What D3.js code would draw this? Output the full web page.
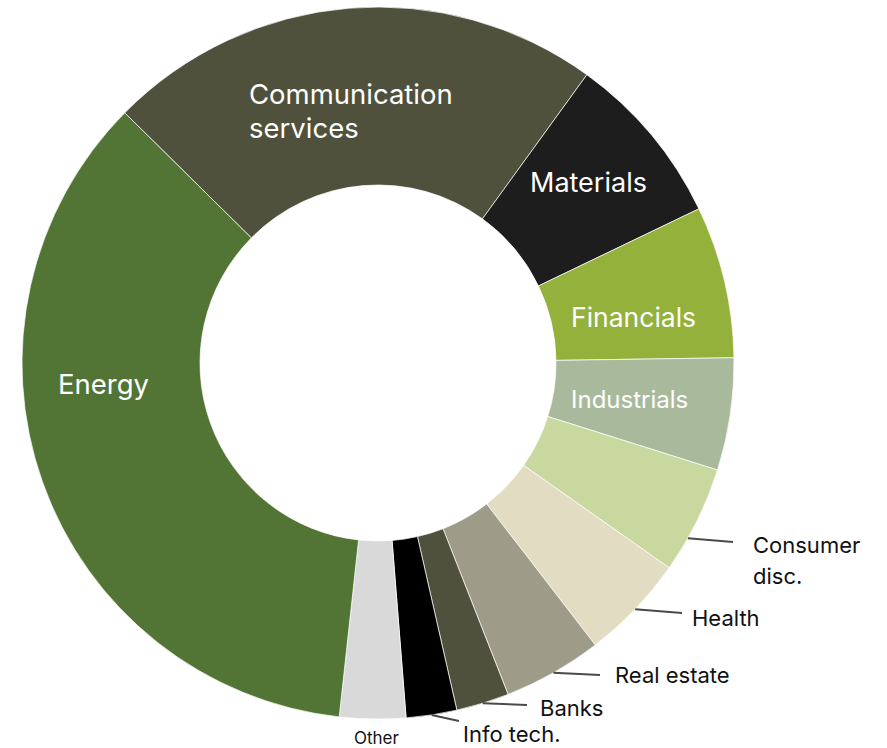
<!DOCTYPE html>
<html>
<head>
<meta charset="utf-8">
<script src="https://cdn.jsdelivr.net/npm/d3@7"></script>
<style>
  body { margin: 0; background: #fff; }
  svg text { font-family: Inter, "Noto Sans", sans-serif; }
</style>
</head>
<body>
<div id="chart"></div>
<script>
// sector shares (%), clockwise from Communication services
var sectors = ["Communication services", "Materials", "Financials", "Industrials", "Consumer disc.",
               "Health", "Real estate", "Banks", "Info tech.", "Other", "Energy"];
var shares  = [22.6, 7.9, 6.9, 5.1, 4.9, 4.8, 4.5, 2.4, 2.3, 3.0, 35.7];
var colors  = ["#4f513c", "#1d1d1d", "#94b13b", "#a9ba9c", "#c9d89f",
               "#e2dcc2", "#9e9c88", "#4f513c", "#000000", "#d9d9d9", "#527535"];

var width = 887, height = 748;
var cx = 378, cy = 363, outerR = 356, innerR = 178;

// hand placed labels: inside (white) and outside (with leader line)
var inside = {
  "Communication services": {x: 249, y: 104, lines: ["Communication", "services"], size: 27.5},
  "Materials":  {x: 530, y: 192, size: 27},
  "Financials": {x: 571, y: 327, size: 26.5},
  "Industrials": {x: 571, y: 408, size: 24},
  "Energy":     {x: 58, y: 394, size: 27.5}
};
// f = where along the slice the leader line leaves the rim (0.5 = middle)
var outside = {
  "Consumer disc.": {end: [733, 542], f: 0.68, x: 753, y: 553, lines: ["Consumer", "disc."]},
  "Health":      {end: [682, 613], x: 692, y: 626},
  "Real estate": {end: [600, 675], x: 615, y: 683},
  "Banks":       {end: [527, 705], x: 540, y: 716},
  "Info tech.":  {end: [459, 721], x: 463, y: 742},
  "Other":       {end: null, x: 354, y: 744, size: 17}
};

var data = sectors.map(function(s, i){ return {name: s, value: shares[i], color: colors[i]}; });

var pie = d3.pie()
    .sort(null)
    .value(function(d){ return d.value; })
    .startAngle(-45.35 * Math.PI / 180)
    .endAngle((360 - 45.35) * Math.PI / 180);

var arc = d3.arc().innerRadius(innerR).outerRadius(outerR);

var svg = d3.select("#chart").append("svg")
    .attr("width", width)
    .attr("height", height);

var g = svg.append("g").attr("transform", "translate(" + cx + "," + cy + ")");

var arcs = pie(data);

g.selectAll(".slice")
  .data(arcs)
  .enter().append("path")
    .attr("class", "slice")
    .attr("d", arc)
    .attr("fill", function(d){ return d.data.color; })
    .attr("stroke", "#fff")
    .attr("stroke-width", 0.7);

// inside labels
arcs.forEach(function(d){
  var lab = inside[d.data.name];
  if (!lab) return;
  var t = svg.append("text")
    .attr("x", lab.x).attr("y", lab.y)
    .attr("fill", "#fff")
    .style("font-size", lab.size + "px");
  (lab.lines || [d.data.name]).forEach(function(l, i){
    t.append("tspan").attr("x", lab.x).attr("dy", i ? 34 : 0).text(l);
  });
});

// outside labels with leader lines from the slice rim
arcs.forEach(function(d){
  var lab = outside[d.data.name];
  if (!lab) return;
  if (lab.end) {
    var f = lab.f == null ? 0.5 : lab.f;
    var a = d.startAngle + f * (d.endAngle - d.startAngle);
    var sx = cx + outerR * Math.sin(a), sy = cy - outerR * Math.cos(a);
    svg.append("line")
      .attr("x1", sx).attr("y1", sy)
      .attr("x2", lab.end[0]).attr("y2", lab.end[1])
      .attr("stroke", "#4a4a4a")
      .attr("stroke-width", 2);
  }
  var t = svg.append("text")
    .attr("x", lab.x).attr("y", lab.y)
    .attr("fill", "#111")
    .style("font-size", (lab.size || 22) + "px");
  (lab.lines || [d.data.name]).forEach(function(l, i){
    t.append("tspan").attr("x", lab.x).attr("dy", i ? 31 : 0).text(l);
  });
});
</script>
</body>
</html>
